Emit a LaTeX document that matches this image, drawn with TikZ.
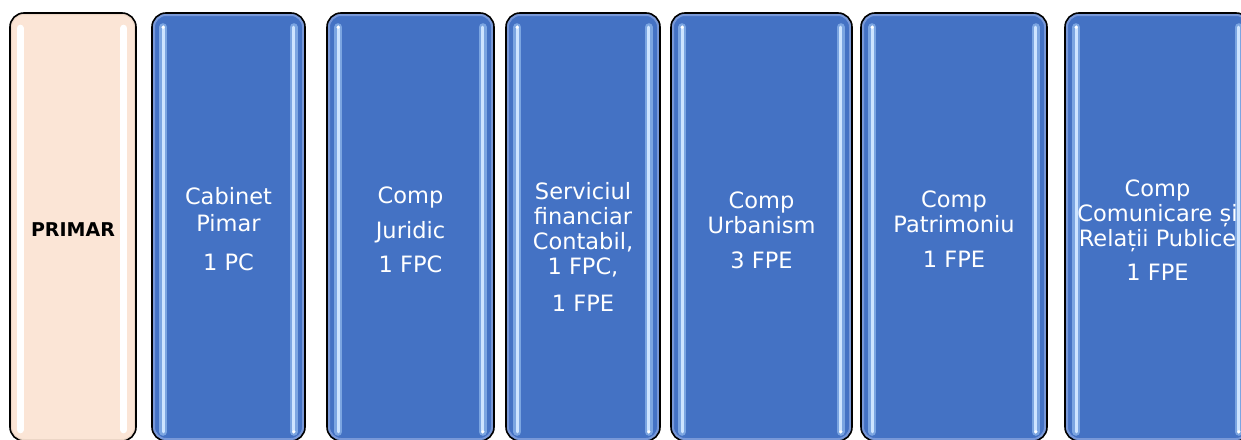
\documentclass[tikz,border=0pt]{standalone}
\usepackage{fontspec}
\setmainfont{DejaVu Sans}
\definecolor{deptblue}{RGB}{68,114,196}
\definecolor{rimblue}{RGB}{120,152,216}
\definecolor{glowblue}{RGB}{160,200,245}
\definecolor{shineblue}{RGB}{205,228,255}
\definecolor{mayorbeige}{RGB}{251,229,214}
\definecolor{rimbeige}{RGB}{236,214,198}

\begin{document}
\begin{tikzpicture}[x=1pt, y=-1pt,
    dept/.style={rectangle, rounded corners=14pt, draw=black, line width=1.6pt, fill=deptblue,
        minimum height=428pt, inner sep=0pt,
        path picture={\draw[rimblue, line width=6pt, rounded corners=14pt]
            (path picture bounding box.south west) rectangle (path picture bounding box.north east);}},
    mayor/.style={dept, fill=mayorbeige,
        path picture={\draw[rimbeige, line width=4pt, rounded corners=14pt]
            (path picture bounding box.south west) rectangle (path picture bounding box.north east);}},
    depttext/.style={text=white, align=center, anchor=north, inner sep=0pt, font=\fontsize{22.5}{25}\selectfont},
    glow/.style={line width=8pt, glowblue, opacity=0.6, line cap=round},
    shine/.style={line width=3pt, shineblue, line cap=round},
    mayorshine/.style={line width=7pt, white, line cap=round}]
    \useasboundingbox (0,0) rectangle (1241,439);

    % departments
    \node [mayor, minimum width=126pt] (primar) at (73,227) {};
    \node [dept, minimum width=153pt] (cabinet) at (228.5,227) {};
    \node [dept, minimum width=167pt] (juridic) at (410.5,227) {};
    \node [dept, minimum width=154pt] (financiar) at (583,227) {};
    \node [dept, minimum width=181pt] (urbanism) at (761.5,227) {};
    \node [dept, minimum width=186pt] (patrimoniu) at (954,227) {};
    \node [dept, minimum width=185pt] (comunicare) at (1157.5,227) {};

    % glossy edges
    \draw[mayorshine] ([xshift=11pt,yshift=-16pt]primar.north west) -- ([xshift=11pt,yshift=12pt]primar.south west);
    \draw[mayorshine] ([xshift=-13pt,yshift=-16pt]primar.north east) -- ([xshift=-13pt,yshift=12pt]primar.south east);
    \foreach \b in {cabinet,juridic,financiar,urbanism,patrimoniu,comunicare} {
        \draw[glow] ([xshift=12pt,yshift=-15pt]\b.north west) -- ([xshift=12pt,yshift=10pt]\b.south west);
        \draw[shine] ([xshift=12pt,yshift=-15pt]\b.north west) -- ([xshift=12pt,yshift=10pt]\b.south west);
        \draw[glow] ([xshift=-12pt,yshift=-15pt]\b.north east) -- ([xshift=-12pt,yshift=10pt]\b.south east);
        \draw[shine] ([xshift=-12pt,yshift=-15pt]\b.north east) -- ([xshift=-12pt,yshift=10pt]\b.south east);
        \fill[white] ([xshift=12pt,yshift=-15pt]\b.north west) circle (1.8pt);
        \fill[white] ([xshift=-12pt,yshift=10pt]\b.south east) circle (1.8pt);
    }

    % labels
    \node [font=\bfseries\fontsize{19}{23}\selectfont] (primar-t) at (73,229.5) {PRIMAR};
    \node [depttext] (cabinet-t) at (228.5,187) {Cabinet\\[2pt]Pimar\\[14pt]1 PC};
    \node [depttext] (juridic-t) at (410.5,187) {Comp\\[10pt]Juridic\\[9pt]1 FPC};
    \node [depttext] (financiar-t) at (583,182) {Serviciul\\financiar\\Contabil,\\1 FPC,\\[12pt]1 FPE};
    \node [depttext] (urbanism-t) at (761.5,192) {Comp\\Urbanism\\[10pt]3 FPE};
    \node [depttext] (patrimoniu-t) at (954,191) {Comp\\Patrimoniu\\[10pt]1 FPE};
    \node [depttext] (comunicare-t) at (1157.5,180) {Comp\\Comunicare și\\Relații Publice\\[9pt]1 FPE};
\end{tikzpicture}
\end{document}
